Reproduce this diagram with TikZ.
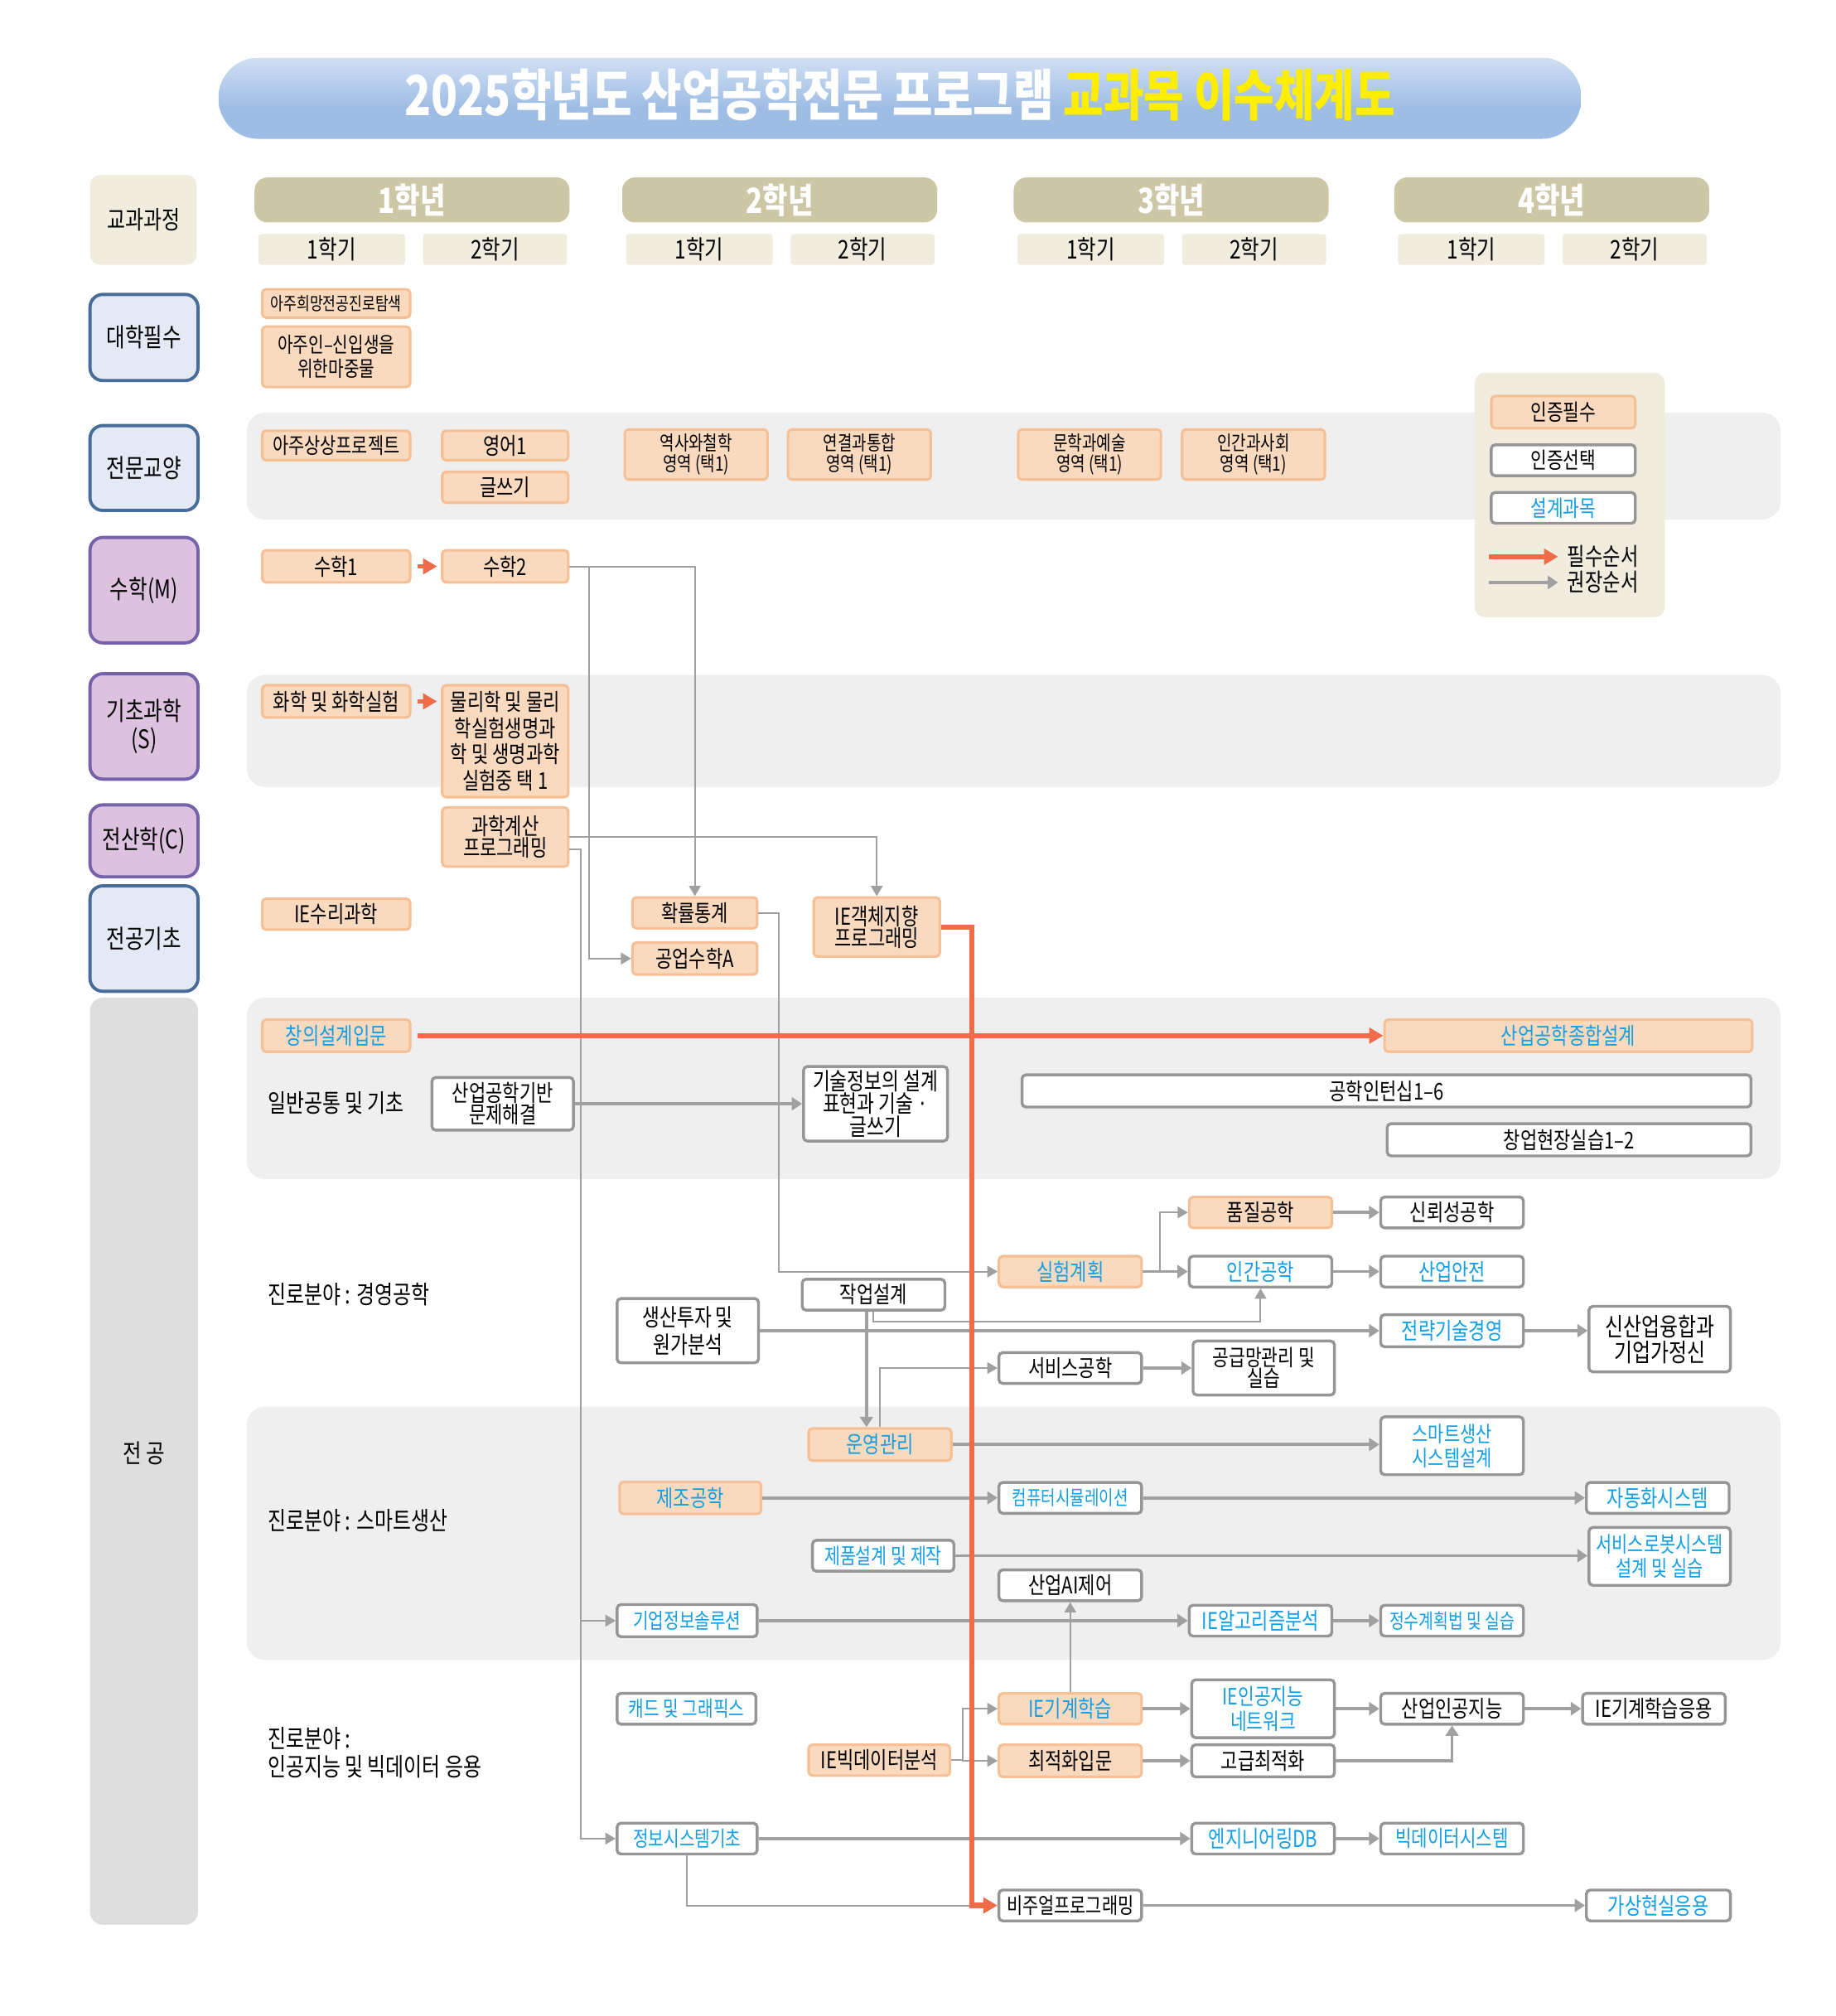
\documentclass[tikz,border=0pt]{standalone}
\usepackage{fontspec}
\setmainfont{Noto Sans CJK KR}[FakeStretch=0.79]
\usetikzlibrary{arrows.meta}

% 색상
\definecolor{reqfill}{RGB}{250,218,190}
\definecolor{reqline}{RGB}{245,192,150}
\definecolor{optline}{RGB}{150,150,150}
\definecolor{dsntext}{RGB}{20,158,228}
\definecolor{must}{RGB}{238,108,72}
\definecolor{hint}{RGB}{160,160,160}
\definecolor{band}{RGB}{239,239,239}
\definecolor{khaki}{RGB}{205,199,166}
\definecolor{cream}{RGB}{240,236,222}
\definecolor{bluefill}{RGB}{228,234,245}
\definecolor{blueline}{RGB}{72,108,152}
\definecolor{lilacfill}{RGB}{220,194,223}
\definecolor{lilacline}{RGB}{118,98,170}
\definecolor{majorfill}{RGB}{222,222,222}
\definecolor{titletop}{RGB}{208,223,243}
\definecolor{titlebot}{RGB}{158,189,228}
\definecolor{titlegold}{RGB}{255,238,0}

\tikzset{
  course/.style={rounded corners=3pt, inner sep=0pt, align=center,
    font=\fontsize{18}{17}\selectfont},
  req/.style={course, fill=reqfill, draw=reqline, line width=2pt},
  opt/.style={course, fill=white, draw=optline, line width=2.2pt},
  dsn/.style={text=dsntext},
  sz/.style 2 args={minimum width=#1pt, minimum height=#2pt},
  fs/.style 2 args={font=\fontsize{#1}{#2}\selectfont},
  cat/.style={rounded corners=10pt, inner sep=0pt, align=center, line width=2.5pt,
    font=\fontsize{20}{22}\selectfont},
  catblue/.style={cat, fill=bluefill, draw=blueline},
  catlilac/.style={cat, fill=lilacfill, draw=lilacline},
  yearbar/.style={fill=khaki, rounded corners=10pt, minimum width=245pt, minimum height=35pt,
    inner sep=0pt, text=white, font=\fontsize{27}{28}\selectfont\bfseries},
  termbox/.style={fill=cream, rounded corners=2pt, minimum height=24pt, inner sep=0pt,
    font=\fontsize{20}{21}\selectfont},
  desc/.style={anchor=west, inner sep=0pt, align=left, font=\fontsize{19.5}{22}\selectfont},
  hintline/.style={draw=hint, line width=1.3pt},
  hintthin/.style={hintline, -{Triangle[length=8pt,width=9pt]}},
  hintarr/.style={draw=hint, line width=2.4pt, -{Triangle[length=8pt,width=10pt]}},
  mustline/.style={draw=must, line width=4pt},
  mustarr/.style={mustline, -{Triangle[length=11pt,width=12pt]}},
}

\begin{document}
\begin{tikzpicture}[x=1pt, y=-1pt, font=\fontsize{18}{19}\selectfont]
  \useasboundingbox (0,0) rectangle (1428,1568);
  \fill[white] (0,0) rectangle (1428,1568);

  % 제목
  \begin{scope}
    \clip[rounded corners=31pt] (170,45) rectangle (1230,108);
    \fill[titlebot] (170,45) rectangle (1230,108);
    \shade[top color=titletop, bottom color=titlebot] (170,45) rectangle (1230,84);
  \end{scope}
  \node[text=white, font=\fontsize{43}{44}\selectfont\bfseries] (title) at (700,74)
    {2025학년도 산업공학전문 프로그램 \textcolor{titlegold}{교과목 이수체계도}};

  % 학년 / 학기
  \node[fill=cream, rounded corners=8pt, sz={83}{70}, inner sep=0pt, fs={19.5}{20}] (hdr) at (111.5,171) {교과과정};
  \foreach \yr/\cx in {1/320.5, 2/606.5, 3/911, 4/1207} {
    \node[yearbar] (y\yr) at (\cx,155.5) {\yr{}학년};
    \node[termbox, minimum width=114pt] (t\yr a) at (\cx-62.5,194) {1학기};
    \node[termbox, minimum width=112pt] (t\yr b) at (\cx+64.5,194) {2학기};
  }

  % 배경 띠
  \foreach \ya/\yb in {321/404, 525/612, 776/917, 1094/1291}
    \fill[band, rounded corners=14pt] (192,\ya) rectangle (1385,\yb);

  % 구분
  \node[catblue, sz={84}{67}] (cUniv) at (112,262.5) {대학필수};
  \node[catblue, sz={84}{66}] (cLib) at (112,364) {전문교양};
  \node[catlilac, sz={84}{82}] (cMath) at (112,459) {수학(M)};
  \node[catlilac, sz={84}{82}] (cSci) at (112,565) {기초과학\\(S)};
  \node[catlilac, sz={84}{56}] (cCom) at (112,654) {전산학(C)};
  \node[catblue, sz={84}{82}] (cBase) at (112,730) {전공기초};
  \fill[majorfill, rounded corners=10pt] (70,776) rectangle (154,1497);
  \node[inner sep=0pt, fs={20}{21}] (cMajor) at (112,1130) {전 공};

  % 범례
  \fill[cream, rounded corners=8pt] (1147,290) rectangle (1295,480);
  \node[req, sz={112}{25}, fs={17.5}{18}] (lgReq) at (1216,320.5) {인증필수};
  \node[opt, sz={112}{24}, fs={17.5}{18}] (lgOpt) at (1216,358) {인증선택};
  \node[opt, dsn, sz={112}{24}, fs={17.5}{18}] (lgDsn) at (1216,395) {설계과목};
  \coordinate (lgA) at (1158,433);
  \coordinate (lgB) at (1212,433);
  \coordinate (lgC) at (1158,453);
  \coordinate (lgD) at (1212,453);
  \node[anchor=west, inner sep=0pt, fs={19}{20}] (lgMust) at (1219,433) {필수순서};
  \node[anchor=west, inner sep=0pt, fs={19}{20}] (lgHint) at (1219,453) {권장순서};

  % 교양 및 기초
  \node[req, sz={115}{22}, fs={14}{15}] (univA) at (261.5,236) {아주희망전공진로탐색};
  \node[req, sz={115}{47}, fs={16.5}{19}] (univB) at (261.5,277.5) {아주인–신입생을\\위한마중물};
  \node[req, sz={115}{23}, fs={17}{18}] (libA) at (261.5,346.5) {아주상상프로젝트};
  \node[req, sz={98}{23}] (libB) at (393,346.5) {영어1};
  \node[req, sz={98}{24}] (libC) at (393,379) {글쓰기};
  \foreach \nm/\cx/\txt in {libD/541.5/역사와철학, libE/668.5/연결과통합, libF/847.5/문학과예술, libG/975/인간과사회}
    \node[req, sz={111}{39}, fs={15.5}{16}] (\nm) at (\cx,353.5) {\txt\\영역 (택1)};
  \node[req, sz={115}{25}] (mathA) at (261.5,440.5) {수학1};
  \node[req, sz={98}{25}] (mathB) at (393,440.5) {수학2};
  \node[req, sz={115}{25}] (sciA) at (261.5,545.5) {화학 및 화학실험};
  \node[req, sz={98}{87}, fs={18}{20.5}] (sciB) at (393,576.5)
    {물리학 및 물리\\학실험생명과\\학 및 생명과학\\실험중 택 1};
  \node[req, sz={98}{46}] (comA) at (393,651) {과학계산\\프로그래밍};
  \node[req, sz={115}{24}] (baseA) at (261.5,711) {IE수리과학};
  \node[req, sz={97}{24}] (baseB) at (540.5,710) {확률통계};
  \node[req, sz={97}{25}] (baseC) at (540.5,745.5) {공업수학A};
  \node[req, sz={98}{46}] (baseD) at (682,721) {IE객체지향\\프로그래밍};

  % 전공 : 일반공통
  \node[req, dsn, sz={115}{25}] (capA) at (261.5,805.5) {창의설계입문};
  \node[req, dsn, sz={286}{25}] (capB) at (1220,805.5) {산업공학종합설계};
  \node[desc] (dGen) at (208,858) {일반공통 및 기초};
  \node[opt, sz={110}{41}, fs={18}{16.5}] (genA) at (391,858.5) {산업공학기반\\문제해결};
  \node[opt, sz={112}{58}, fs={18.5}{16}] (genB) at (681,858.5)
    {기술정보의 설계\\표현과 기술 ·\\글쓰기};
  \node[opt, sz={567}{25}] (genC) at (1078.5,848.5) {공학인턴십1–6};
  \node[opt, sz={283}{25}] (genD) at (1220.5,886.5) {창업현장실습1–2};

  % 진로분야 : 경영공학
  \node[desc] (dMgt) at (208,1007) {진로분야 : 경영공학};
  \node[req, sz={111}{24}] (mgQual) at (980.5,943) {품질공학};
  \node[opt, sz={111}{24}] (mgRel) at (1129.5,943) {신뢰성공학};
  \node[req, dsn, sz={111}{24}] (mgDoe) at (832.5,989) {실험계획};
  \node[opt, dsn, sz={111}{24}] (mgHum) at (980.5,989) {인간공학};
  \node[opt, dsn, sz={111}{24}] (mgSafe) at (1129.5,989) {산업안전};
  \node[opt, sz={111}{24}] (mgWork) at (679.5,1007) {작업설계};
  \node[opt, sz={110}{50}, fs={18.5}{21}] (mgInv) at (535,1035) {생산투자 및\\원가분석};
  \node[opt, dsn, sz={111}{25}] (mgStr) at (1129.5,1035) {전략기술경영};
  \node[opt, sz={110}{51}, fs={19.5}{20}] (mgNew) at (1291,1041.5) {신산업융합과\\기업가정신};
  \node[opt, sz={111}{24}] (mgSvc) at (832.5,1064) {서비스공학};
  \node[opt, sz={110}{42}, fs={17.5}{16}] (mgScm) at (983,1064) {공급망관리 및\\실습};

  % 진로분야 : 스마트생산
  \node[desc] (dSmt) at (208,1183) {진로분야 : 스마트생산};
  \node[req, dsn, sz={111}{25}] (smOps) at (684.5,1123.5) {운영관리};
  \node[opt, dsn, sz={111}{45}, fs={17}{18.5}] (smSys) at (1129.5,1124.5) {스마트생산\\시스템설계};
  \node[req, dsn, sz={110}{25}] (smMfg) at (537,1165) {제조공학};
  \node[opt, dsn, sz={111}{24}, fs={15.5}{16}] (smSim) at (832.5,1165) {컴퓨터시뮬레이션};
  \node[opt, dsn, sz={111}{24}] (smAuto) at (1289.5,1165) {자동화시스템};
  \node[opt, dsn, sz={110}{24}, fs={16.8}{17}] (smPrd) at (687,1210) {제품설계 및 제작};
  \node[opt, dsn, sz={110}{45}, fs={17}{19}] (smRobot) at (1291,1210.5) {서비스로봇시스템\\설계 및 실습};
  \node[opt, sz={111}{24}] (smAI) at (832.5,1233) {산업AI제어};
  \node[opt, dsn, sz={109}{25}, fs={16.5}{17}] (smErp) at (534.5,1260.5) {기업정보솔루션};
  \node[opt, dsn, sz={111}{24}] (smAlg) at (980.5,1260.5) {IE알고리즘분석};
  \node[opt, dsn, sz={111}{24}, fs={15.8}{16}] (smInt) at (1129.5,1260.5) {정수계획법 및 실습};

  % 진로분야 : 인공지능 및 빅데이터 응용
  \node[desc] (dAI) at (208,1363) {진로분야 :\\인공지능 및 빅데이터 응용};
  \node[opt, dsn, sz={108}{24}, fs={16.5}{17}] (aiCad) at (534,1329) {캐드 및 그래픽스};
  \node[req, sz={110}{24}] (aiBig) at (684,1369) {IE빅데이터분석};
  \node[req, dsn, sz={111}{24}] (aiMl) at (832.5,1329) {IE기계학습};
  \node[req, sz={111}{25}] (aiOpt) at (832.5,1369.5) {최적화입문};
  \node[opt, dsn, sz={111}{45}, fs={17.5}{19}] (aiNet) at (982.5,1329) {IE인공지능\\네트워크};
  \node[opt, sz={111}{25}] (aiAdv) at (982.5,1369.5) {고급최적화};
  \node[opt, sz={111}{24}] (aiInd) at (1129.5,1329) {산업인공지능};
  \node[opt, sz={111}{24}] (aiMla) at (1286.5,1329) {IE기계학습응용};
  \node[opt, dsn, sz={109}{24}, fs={16.5}{17}] (aiIs) at (534.5,1430) {정보시스템기초};
  \node[opt, dsn, sz={111}{24}] (aiDb) at (982.5,1430) {엔지니어링DB};
  \node[opt, dsn, sz={111}{24}, fs={17.3}{18}] (aiBds) at (1129.5,1430) {빅데이터시스템};
  \node[opt, sz={111}{24}, fs={17}{18}] (aiVis) at (832.5,1482) {비주얼프로그래밍};
  \node[opt, dsn, sz={112}{24}] (aiVr) at (1290,1482) {가상현실응용};

  % 권장순서
  \coordinate (jM) at (458,440.5);
  \coordinate (jC) at (452,660.5);
  \coordinate (rc) at (756,1482);
  \draw[hintthin] (mathB.east) -| (baseB.north);
  \draw[hintthin] (jM) |- (baseC.west);
  \draw[hintthin] (comA.east) -| (baseD.north);
  \draw[hintthin] ([yshift=-9.5pt]comA.east) -- (jC) |- (aiIs.west);
  \draw[hintthin] (jC) |- (smErp.west);
  \draw[hintthin] (baseB.east) -- ++(16,0) |- (mgDoe.west);
  \draw[hintarr] (genA.east) -- (genA.east -| genB.west);

  \draw[hintarr] (mgDoe) -- (mgHum);
  \draw[hintthin] (mgDoe.east) ++(13,0) coordinate (jD) |- (mgQual.west);
  \draw[hintarr] (mgQual) -- (mgRel);
  \draw[hintarr] (mgHum) -- (mgSafe);
  \draw[hintarr] (mgStr.east) -- (mgStr.east -| mgNew.west);
  \draw[hintarr] (mgSvc) -- (mgScm);
  \draw[hintarr] (mgInv.east) -- (mgInv.east -| mgStr.west);
  \path ([xshift=-5.5pt]mgWork.south) coordinate (wkL);
  \draw[hintarr] (wkL) -- (wkL |- smOps.north);
  \draw[hintthin] (mgWork.south) -- ++(0,8) -| (mgHum.south);
  \draw[hintthin] (smOps.north) |- (mgSvc.west);

  \draw[hintarr] (smOps.east) -- (smOps.east -| smSys.west);
  \draw[hintarr] (smMfg) -- (smSim);
  \draw[hintarr] (smSim) -- (smAuto);
  \draw[hintarr] (smPrd.east) -- (smPrd.east -| smRobot.west);
  \draw[hintarr] (smErp) -- (smAlg);
  \draw[hintarr] (smAlg) -- (smInt);
  \draw[hintthin] (aiMl) -- (smAI);

  \draw[hintthin] (aiBig.east) -- ++(9,0) coordinate (jB) |- (aiMl.west);
  \draw[hintthin] (jB) |- (aiOpt.west);
  \draw[hintarr] (aiMl) -- (aiNet);
  \draw[hintarr] (aiNet) -- (aiInd);
  \draw[hintarr] (aiInd) -- (aiMla);
  \draw[hintarr] (aiOpt) -- (aiAdv);
  \draw[hintarr] (aiAdv.east) -| (aiInd.south);
  \draw[hintarr] (aiIs) -- (aiDb);
  \draw[hintarr] (aiDb) -- (aiBds);
  \draw[hintarr] (aiVis) -- (aiVr);
  \draw[hintline] (aiIs.south) |- (rc);

  % 필수순서
  \draw[mustarr, line width=3.5pt, shorten <=5pt, shorten >=3pt] (mathA.east) -- (mathB.west);
  \draw[mustarr, line width=3.5pt, shorten <=5pt, shorten >=3pt] (sciA.east) -- (sciA.east -| sciB.west);
  \draw[mustarr] ([xshift=5pt]capA.east) -- (capB.west);
  \draw[mustarr] (baseD.east) -| (rc) -- (aiVis.west);

  % 범례 화살표
  \draw[mustarr] (lgA) -- (lgB);
  \draw[hintarr, line width=3pt] (lgC) -- (lgD);
\end{tikzpicture}
\end{document}
